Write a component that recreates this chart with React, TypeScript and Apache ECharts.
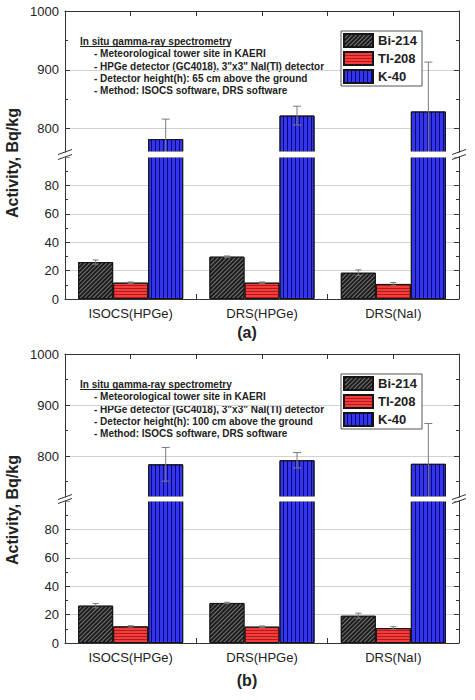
import React, { useEffect, useRef } from 'react';
import * as echarts from 'echarts';

// ---------- data ----------
const categories = ['ISOCS(HPGe)', 'DRS(HPGe)', 'DRS(NaI)'];
const seriesNames = ['Bi-214', 'TI-208', 'K-40'];

// panel (a): detector height 65 cm
const biA = [26, 29.8, 18.5];
const biErrA = [1.5, 0.5, 2];
const tlA = [11.5, 11.5, 10.6];
const tlErrA = [0.5, 0.5, 1];
const kA = [782, 822, 829];
const kErrA = [34, 16, 84];

// panel (b): detector height 100 cm
const biB = [26.3, 28.2, 19.2];
const biErrB = [1.5, 0.5, 1.8];
const tlB = [11.7, 11.5, 10.5];
const tlErrB = [0.5, 0.5, 1];
const kB = [784, 792, 785];
const kErrB = [33, 15, 79];

const lowerAxis = { min: 0, max: 100, interval: 20 };
const upperMinA = 760;
const upperMinB = 720;
const upperMax = 1000;

const notesA = [
  'In situ gamma-ray spectrometry',
  '- Meteorological tower site in KAERI',
  '- HPGe detector (GC4018), 3"x3" NaI(TI) detector',
  '- Detector height(h): 65 cm above the ground',
  '- Method: ISOCS software, DRS software',
];
const notesB = [
  'In situ gamma-ray spectrometry',
  '- Meteorological tower site in KAERI',
  '- HPGe detector (GC4018), 3"x3" NaI(TI) detector',
  '- Detector height(h): 100 cm above the ground',
  '- Method: ISOCS software, DRS software',
];
const yTitle = 'Activity, Bq/kg';

// ---------- styles ----------
const FONT = 'Liberation Sans, Arial, sans-serif';
const AXIS = '#333';
const fills = ['#1c1c1c', '#f43c3c', '#3434f2'];
const decals: any[] = [
  { symbol: 'rect', symbolSize: 1, color: 'rgba(120,120,120,0.95)', dashArrayX: [1, 0], dashArrayY: [1, 2], rotation: -Math.PI / 4 },
  { symbol: 'rect', symbolSize: 1, color: 'rgba(120,0,0,0.55)', dashArrayX: [1, 0], dashArrayY: [1, 2], rotation: 0 },
  { symbol: 'rect', symbolSize: 1, color: 'rgba(0,0,70,0.8)', dashArrayX: [1, 0], dashArrayY: [1, 3], rotation: Math.PI / 2 },
];

const panels = [
  {
    top: 11, breakTop: 152, breakBottom: 157, bottom: 299, upperMin: upperMinA,
    vals: [biA, tlA, kA], errs: [biErrA, tlErrA, kErrA], notes: notesA,
    caption: '(a)', captionY: 332, titleY: 163,
  },
  {
    top: 354, breakTop: 497, breakBottom: 501, bottom: 643, upperMin: upperMinB,
    vals: [biB, tlB, kB], errs: [biErrB, tlErrB, kErrB], notes: notesB,
    caption: '(b)', captionY: 680, titleY: 510,
  },
];

const LEFT = 65;
const RIGHT = 16;
const AXX_L = 65;
const AXX_R = 459;

function buildOption() {
  const grid: any[] = [];
  const xAxis: any[] = [];
  const yAxis: any[] = [];
  const series: any[] = [];
  const legend: any[] = [];
  const graphic: any[] = [];

  panels.forEach((p, pi) => {
    const gU = pi * 2;
    const gL = pi * 2 + 1;
    grid.push({ left: LEFT, right: RIGHT, top: p.top, height: p.breakTop - p.top, containLabel: false, outerBoundsMode: 'none' });
    grid.push({ left: LEFT, right: RIGHT, top: p.breakBottom, height: p.bottom - p.breakBottom, containLabel: false, outerBoundsMode: 'none' });

    const xU = xAxis.length;
    xAxis.push({ gridIndex: gU, type: 'category', data: categories, position: 'bottom', show: false });
    xAxis.push({
      gridIndex: gU, type: 'value', position: 'top', min: 0, max: 3, interval: 0.5,
      axisLine: { show: true, lineStyle: { color: AXIS, width: 1 } },
      axisTick: { show: true, inside: true, length: 5, lineStyle: { color: AXIS } },
      axisLabel: { show: false }, splitLine: { show: false },
    });
    const xL = xAxis.length;
    xAxis.push({
      gridIndex: gL, type: 'category', data: categories, position: 'bottom',
      axisLine: { show: true, lineStyle: { color: AXIS, width: 1 } },
      axisTick: { show: true, inside: true, length: 5, lineStyle: { color: AXIS } },
      axisLabel: { show: true, fontSize: 13, color: '#222', fontFamily: FONT, margin: 8 },
      splitLine: { show: false },
    });

    const mkY = (gridIndex: number, lower: boolean, right: boolean) => {
      const base: any = {
        gridIndex, type: 'value', position: right ? 'right' : 'left',
        axisLine: { show: true, onZero: false, lineStyle: { color: AXIS, width: 1 } },
        axisTick: { show: true, inside: true, length: 5, lineStyle: { color: AXIS } },
        minorTick: { show: true, splitNumber: 2, length: 3, lineStyle: { color: AXIS } },
        axisLabel: {
          show: !right, fontSize: 13, color: '#222', fontFamily: FONT, margin: 6,
          showMinLabel: lower, showMaxLabel: !lower,
          formatter: (v: number) => String(v),
        },
        splitLine: { show: !right, showMinLine: false, showMaxLine: false, lineStyle: { color: '#d2d2d2', width: 1 } },
      };
      if (lower) {
        base.min = lowerAxis.min; base.max = lowerAxis.max; base.interval = lowerAxis.interval;
      } else {
        base.min = p.upperMin; base.max = upperMax; base.splitNumber = 3;
      }
      return base;
    };
    const yUL = yAxis.length; yAxis.push(mkY(gU, false, false));
    yAxis.push(mkY(gU, false, true));
    const yLL = yAxis.length; yAxis.push(mkY(gL, true, false));
    yAxis.push(mkY(gL, true, true));

    // bars in both segments
    [[xU, yUL], [xL, yLL]].forEach(([xi, yi]) => {
      seriesNames.forEach((name, k) => {
        series.push({
          type: 'bar', name, xAxisIndex: xi, yAxisIndex: yi, data: p.vals[k],
          barGap: '0%', barCategoryGap: '20%', clip: true, z: 2,
          itemStyle: { color: fills[k], borderColor: '#151515', borderWidth: 1, decal: decals[k] },
        });
      });
    });

    // error bars
    const errData = (ks: number[]) => {
      const out: number[][] = [];
      ks.forEach((k) => {
        p.vals[k].forEach((v, ci) => out.push([ci, v, p.errs[k][ci], k]));
      });
      return out;
    };
    const renderErr = (params: any, api: any) => {
      const ci = api.value(0), v = api.value(1), e = api.value(2), k = api.value(3);
      const band = api.size([1, 0])[0];
      const bw = (band * 0.8) / 3;
      const cx = api.coord([ci, v])[0] + (k - 1) * bw;
      const yTop = api.coord([ci, v + e])[1];
      const yBot = api.coord([ci, v - e])[1];
      const cap = k === 2 ? 4 : 3;
      const st = { stroke: '#7a7a7a', lineWidth: 1 };
      return {
        type: 'group',
        children: [
          { type: 'line', shape: { x1: cx, y1: yTop, x2: cx, y2: yBot }, style: st },
          { type: 'line', shape: { x1: cx - cap, y1: yTop, x2: cx + cap, y2: yTop }, style: st },
          { type: 'line', shape: { x1: cx - cap, y1: yBot, x2: cx + cap, y2: yBot }, style: st },
        ],
      };
    };
    series.push({
      type: 'custom', xAxisIndex: xU, yAxisIndex: yUL, data: errData([2]), clip: true, z: 3,
      encode: { x: 0, y: 1 }, renderItem: renderErr, silent: true,
    });
    series.push({
      type: 'custom', xAxisIndex: xL, yAxisIndex: yLL, data: errData([0, 1]), clip: true, z: 3,
      encode: { x: 0, y: 1 }, renderItem: renderErr, silent: true,
    });

    legend.push({
      data: seriesNames, orient: 'vertical', left: 341, top: p.top + 20,
      itemWidth: 29, itemHeight: 13, itemGap: 3, padding: [2, 5, 2, 2],
      borderColor: '#555', borderWidth: 1, backgroundColor: '#fff', icon: 'rect',
      selectedMode: false,
      textStyle: { fontFamily: FONT, fontWeight: 'bold', fontSize: 13, color: '#222' },
    });

    // annotation text
    p.notes.forEach((t, i) => {
      graphic.push({
        type: 'text', x: i === 0 ? 80 : 94, y: p.top + 30.5 + i * 12.3,
        style: { text: t, font: `bold 10px ${FONT}`, fill: '#222', verticalAlign: 'middle', align: 'left' },
      });
    });
    graphic.push({
      type: 'line', shape: { x1: 80, y1: p.top + 35.5, x2: 230, y2: p.top + 35.5 },
      style: { stroke: '#222', lineWidth: 1 },
    });

    // y title
    graphic.push({
      type: 'text', x: 12, y: p.titleY, rotation: Math.PI / 2,
      style: { text: yTitle, font: `bold 16px ${FONT}`, fill: '#222', align: 'center', verticalAlign: 'middle' },
    });
    // caption
    graphic.push({
      type: 'text', x: 247, y: p.captionY,
      style: { text: p.caption, font: `bold 16px ${FONT}`, fill: '#222', align: 'center', verticalAlign: 'middle' },
    });
    // white gap across the axis break (hides bar borders at the clip edges)
    graphic.push({
      type: 'rect', z: 100,
      shape: { x: AXX_L + 0.5, y: p.breakTop - 0.6, width: AXX_R - AXX_L - 1, height: p.breakBottom - p.breakTop + 1.2 },
      style: { fill: '#fff' },
    });
    // axis break marks
    [AXX_L, AXX_R].forEach((ax) => {
      [p.breakTop, p.breakBottom].forEach((ey) => {
        graphic.push({
          type: 'line', z: 101, shape: { x1: ax - 7, y1: ey + 2.5, x2: ax + 7, y2: ey - 2.5 },
          style: { stroke: AXIS, lineWidth: 1 },
        });
      });
    });
  });

  return {
    animation: false,
    backgroundColor: '#fff',
    grid, xAxis, yAxis, series, legend, graphic,
  };
}

export default function App() {
  const ref = useRef<HTMLDivElement>(null);
  useEffect(() => {
    if (!ref.current) return;
    const chart = echarts.init(ref.current, null, { renderer: 'svg' });
    chart.setOption(buildOption() as any);
    return () => chart.dispose();
  }, []);
  return (
    <div
      ref={ref}
      style={{ position: 'fixed', left: 0, top: 0, width: 475, height: 700, background: '#fff' }}
    />
  );
}
